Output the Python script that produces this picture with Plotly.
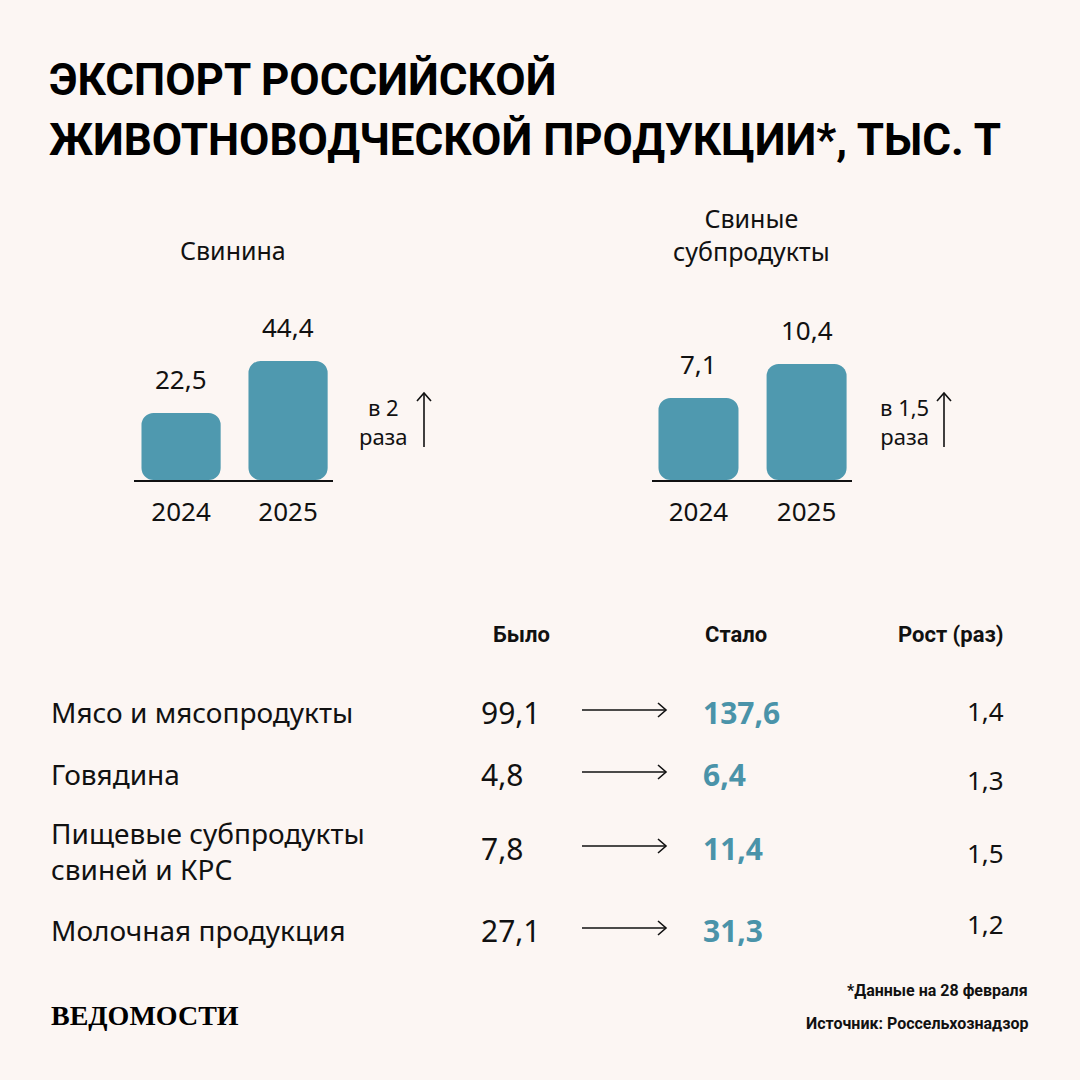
import plotly.graph_objects as go

# ---------------- data ----------------
years = ["2024", "2025"]
pork_values = [22.5, 44.4]
offal_values = [7.1, 10.4]
chart_titles = ["Свинина", "Свиные<br>субпродукты"]
growth_notes = ["в 2<br>раза", "в 1,5<br>раза"]

title_lines = ["ЭКСПОРТ РОССИЙСКОЙ", "ЖИВОТНОВОДЧЕСКОЙ ПРОДУКЦИИ*, ТЫС. Т"]
table_headers = ["Было", "Стало", "Рост (раз)"]
table_items = ["Мясо и мясопродукты", "Говядина", "Пищевые субпродукты<br>свиней и КРС", "Молочная продукция"]
was_values = [99.1, 4.8, 7.8, 27.1]
became_values = [137.6, 6.4, 11.4, 31.3]
growth_values = [1.4, 1.3, 1.5, 1.2]
footnote = "*Данные на 28 февраля"
source = "Источник: Россельхознадзор"
logo = "ВЕДОМОСТИ"

# ---------------- style ----------------
W = H = 1080
BG = "#FCF6F3"
BAR = "#4F99AF"
TEAL = "#4A93A9"
INK = "#111111"
BODY = "Noto Sans, Open Sans, sans-serif"
HEAD = "Roboto, Noto Sans, sans-serif"
TITLE = "Roboto, sans-serif"


def px(x):
    return x / W


def py(y):
    return 1 - y / H


def fmt(v):
    return f"{v:.1f}".replace(".", ",")


def note(x, y, text, size, family=BODY, color=INK, xanchor="left", align="left", weight=None):
    f = dict(family=family, size=size, color=color)
    if weight:
        f["weight"] = weight
    return dict(x=px(x), y=py(y), xref="paper", yref="paper", text=text, showarrow=False,
                xanchor=xanchor, yanchor="middle", align=align, font=f)


fig = go.Figure()

panels = [
    (pork_values, "x", "y", (134, 333), -5.7, 70.1, 233, 383, 424),
    (offal_values, "x2", "y2", (652, 852), -0.86, 16.62, 751, 905, 944),
]
annotations = []
shapes = []
for i, (vals, xa, ya, (x0, x1), base, ytop, cx, gx, ax) in enumerate(panels):
    fig.add_trace(go.Bar(
        x=years, y=[v - base for v in vals], base=[base] * len(vals),
        xaxis=xa, yaxis=ya, marker=dict(color=BAR, line=dict(width=0)),
        width=0.74, hoverinfo="skip", showlegend=False,
    ))
    for k, v in enumerate(vals):
        annotations.append(dict(
            x=k, y=v, xref=xa, yref=ya, text=fmt(v), showarrow=False,
            xanchor="center", yanchor="bottom", yshift=14,
            font=dict(family=BODY, size=26, color=INK),
        ))
    ty = 250 if i == 0 else 234
    annotations.append(note(cx, ty, chart_titles[i], 25, xanchor="center", align="center"))
    annotations.append(note(gx, 421, growth_notes[i], 22, xanchor="center", align="center"))
    shapes.append(dict(type="line", xref="paper", yref="paper",
                       x0=px(ax), x1=px(ax), y0=py(447), y1=py(393),
                       line=dict(color=INK, width=1.6)))
    shapes.append(dict(type="path", xref="paper", yref="paper",
                       path=f"M {px(ax-7)} {py(401)} L {px(ax)} {py(393)} L {px(ax+7)} {py(401)}",
                       line=dict(color=INK, width=1.6)))

axis_common = dict(showgrid=False, zeroline=False, fixedrange=True)
ydom = [py(480), py(300)]
fig.update_layout(
    xaxis=dict(type="category", domain=[px(134), px(333)], range=[-0.44, 1.42], anchor="y",
               showline=True, linecolor=INK, linewidth=2, ticks="",
               tickfont=dict(family=BODY, size=26, color=INK), ticklabelstandoff=8,
               **axis_common),
    yaxis=dict(domain=ydom, range=[-5.7, 70.1], visible=False, **axis_common),
    xaxis2=dict(type="category", domain=[px(652), px(852)], range=[-0.43, 1.42], anchor="y2",
                showline=True, linecolor=INK, linewidth=2, ticks="",
                tickfont=dict(family=BODY, size=26, color=INK), ticklabelstandoff=8,
                **axis_common),
    yaxis2=dict(domain=ydom, range=[-0.86, 16.62], visible=False, **axis_common),
)

# title
for txt, y in zip(title_lines, [80, 140]):
    annotations.append(note(47, y, f"<b>{txt}</b>", 44, family=TITLE, color="#000000", weight=900))

# table headers
hdr_pos = [(491, "left"), (703, "left"), (1006, "right")]
for txt, (x, anc) in zip(table_headers, hdr_pos):
    annotations.append(note(x, 634, f"<b>{txt}</b>", 22, family=HEAD, xanchor=anc))

label_y = [712, 774, 851, 930]
value_y = [712, 774, 848, 930]
growth_y = [711, 780, 853, 924]
for item, w, b, g, ly, vy, gy in zip(table_items, was_values, became_values,
                                      growth_values, label_y, value_y, growth_y):
    annotations.append(note(49, ly, item, 28))
    annotations.append(note(479, vy, fmt(w), 30))
    annotations.append(note(701, vy, f"<b>{fmt(b)}</b>", 30, color=TEAL))
    annotations.append(note(1006, gy, fmt(g), 26, xanchor="right"))
    ay = vy - 2
    shapes.append(dict(type="line", xref="paper", yref="paper",
                       x0=px(582), x1=px(666), y0=py(ay), y1=py(ay),
                       line=dict(color=INK, width=1.6)))
    shapes.append(dict(type="path", xref="paper", yref="paper",
                       path=f"M {px(658)} {py(ay-7)} L {px(666)} {py(ay)} L {px(658)} {py(ay+7)}",
                       line=dict(color=INK, width=1.6)))

# footer
annotations.append(note(1030, 990, f"<b>{footnote}</b>", 16, family=HEAD, xanchor="right"))
annotations.append(note(1030, 1023, f"<b>{source}</b>", 16, family=HEAD, xanchor="right"))
annotations.append(note(49, 1015, f"<b>{logo}</b>", 28,
                        family="Liberation Serif, DejaVu Serif, serif", color="#000000"))

fig.update_layout(
    width=W, height=H, margin=dict(l=0, r=0, t=0, b=0),
    paper_bgcolor=BG, plot_bgcolor=BG, barcornerradius=12,
    annotations=annotations, shapes=shapes, showlegend=False,
)

fig.write_html("out.html", config={"displayModeBar": False})
